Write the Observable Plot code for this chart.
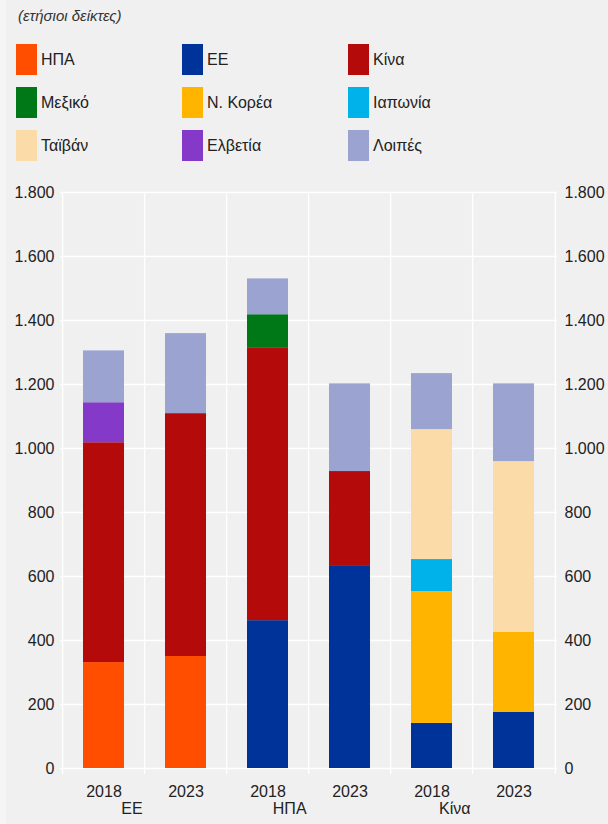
<!DOCTYPE html>
<html>
<head>
<meta charset="utf-8">
<script src="https://cdn.jsdelivr.net/npm/d3@7"></script>
<script src="https://cdn.jsdelivr.net/npm/@observablehq/plot@0.6"></script>
<style>
  html, body { margin: 0; padding: 0; background: #f5f5f5; }
  #page {
    margin-left: 6px; width: 602px; height: 824px; background: #f0f0f0;
    font-family: "Liberation Sans", Arial, Helvetica, sans-serif; color: #222;
    position: relative; overflow: hidden;
  }
  #subtitle { position: absolute; left: 12px; top: 7px; font-size: 15px; font-style: italic; color: #333; }
  #legend {
    position: absolute; left: 10px; top: 44px;
    display: grid; grid-template-columns: 166px 166px 166px; row-gap: 12px;
  }
  .item { display: flex; align-items: center; height: 31px; font-size: 16px; }
  .sw { width: 21px; height: 31px; margin-right: 4px; flex: none; }
  #chart { position: absolute; left: 0; top: 170px; }
</style>
</head>
<body>
<div id="page">
  <div id="subtitle">(ετήσιοι δείκτες)</div>
  <div id="legend"></div>
  <div id="chart"></div>
</div>
<script>
// Reporting economies and years
const groups = ["ΕΕ", "ΗΠΑ", "Κίνα"];
const years = ["2018", "2023"];

// Trade partners, in stacking / legend order, and their colours
const partners = ["ΗΠΑ", "ΕΕ", "Κίνα", "Μεξικό", "Ν. Κορέα", "Ιαπωνία", "Ταϊβάν", "Ελβετία", "Λοιπές"];
const partnerColors = ["#ff4e00", "#003399", "#b40a0a", "#007818", "#ffb400", "#00b2ea", "#fbdca9", "#8439c8", "#9ba3d1"];

// Values per partner, one entry per bar: ΕΕ 2018, ΕΕ 2023, ΗΠΑ 2018, ΗΠΑ 2023, Κίνα 2018, Κίνα 2023
const valUSA    = [331, 350,   0,   0,   0,   0];
const valEU     = [  0,   0, 462, 634, 141, 175];
const valChina  = [687, 759, 853, 294,   0,   0];
const valMexico = [  0,   0, 103,   0,   0,   0];
const valKorea  = [  0,   0,   0,   0, 412, 250];
const valJapan  = [  0,   0,   0,   0, 100,   0];
const valTaiwan = [  0,   0,   0,   0, 406, 534];
const valSwiss  = [125,   0,   0,   0,   0,   0];
const valOther  = [162, 250, 112, 274, 175, 243];

const yTicks = [0, 200, 400, 600, 800, 1000, 1200, 1400, 1600, 1800];

const series = [valUSA, valEU, valChina, valMexico, valKorea, valJapan, valTaiwan, valSwiss, valOther];

// One key per bar: group + year
const bars = groups.flatMap(g => years.map(y => g + "|" + y));
const rows = [];
series.forEach((vals, i) => {
  vals.forEach((v, j) => {
    if (v > 0) rows.push({bar: bars[j], partner: partners[i], value: v});
  });
});

const fmt = d3.formatLocale({decimal: ",", thousands: ".", grouping: [3], currency: ["", "€"]}).format(",d");

// Legend
const legend = document.getElementById("legend");
partners.forEach((p, i) => {
  const item = document.createElement("div");
  item.className = "item";
  item.innerHTML = `<span class="sw" style="background:${partnerColors[i]}"></span><span>${p}</span>`;
  legend.appendChild(item);
});

const W = 602, H = 654, ML = 54, MR = 51, MT = 22, MB = 56;
const step = (W - ML - MR) / bars.length;

const chart = Plot.plot({
  width: W, height: H,
  marginLeft: ML, marginRight: MR, marginTop: MT, marginBottom: MB,
  style: {background: "transparent", fontSize: "16px", fontFamily: "'Liberation Sans', Arial, Helvetica, sans-serif", color: "#222"},
  x: {domain: bars, paddingInner: 0.5, paddingOuter: 0.25, axis: null},
  y: {domain: [0, 1800], axis: null},
  color: {domain: partners, range: partnerColors},
  marks: [
    Plot.ruleY(yTicks, {stroke: "#fff", strokeWidth: 1.4}),
    Plot.ruleX(bars, {x: d => d, dx: -step / 2, stroke: "#fff", strokeWidth: 1.4, insetBottom: -6}),
    Plot.ruleX(bars.slice(-1), {x: d => d, dx: step / 2, stroke: "#fff", strokeWidth: 1.4, insetBottom: -6}),
    Plot.barY(rows, Plot.stackY({order: partners, x: "bar", y: "value", fill: "partner"})),
    Plot.axisY({anchor: "left", ticks: yTicks, tickSize: 0, tickPadding: 6, tickFormat: fmt, label: null}),
    Plot.axisY({anchor: "right", ticks: yTicks, tickSize: 0, tickPadding: 7, tickFormat: fmt, label: null}),
    Plot.axisX({ticks: bars, tickSize: 0, tickPadding: 17, tickFormat: d => d.split("|")[1], label: null}),
    Plot.text(groups, {x: g => g + "|" + years[1], frameAnchor: "bottom", dy: 45, dx: -step / 2 - 2, text: d => d, textAnchor: "end", fill: "#222"})
  ]
});
document.getElementById("chart").appendChild(chart);
</script>
</body>
</html>
